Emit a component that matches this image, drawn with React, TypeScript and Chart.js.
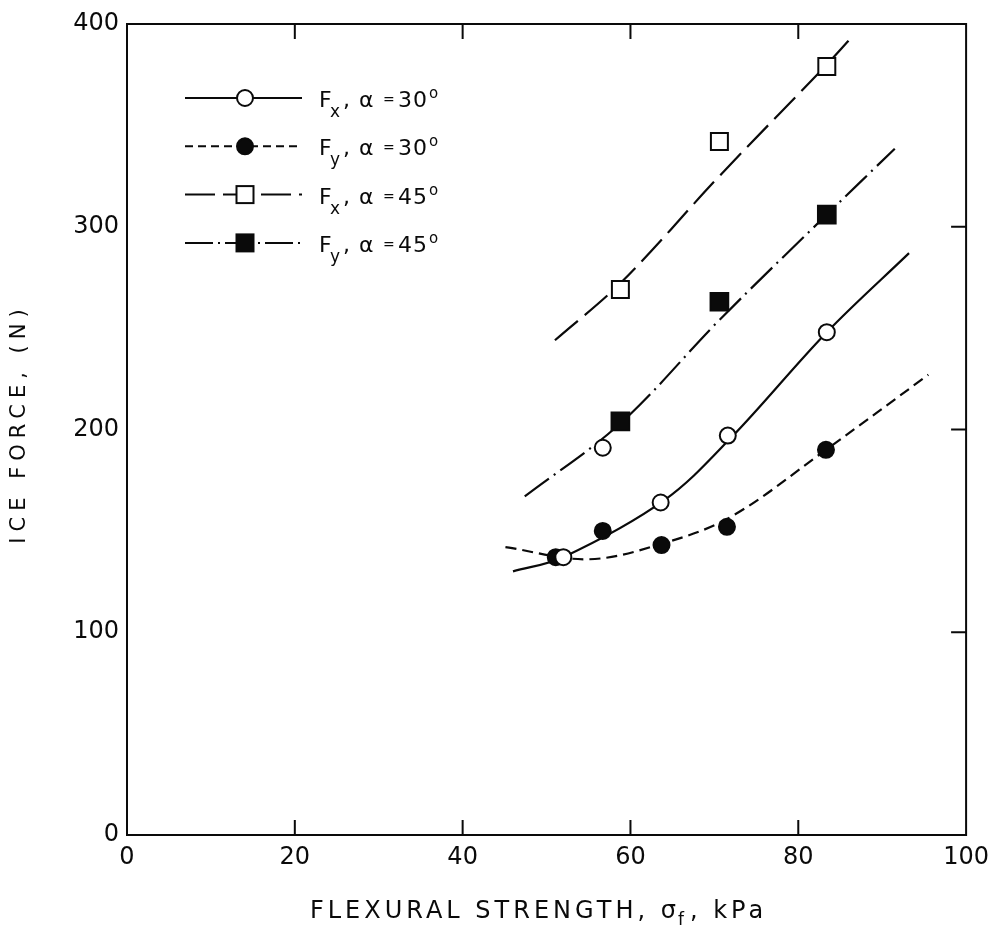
import React, { useEffect, useRef } from 'react';
import { Chart, registerables } from 'chart.js';

Chart.register(...registerables);

// ---------- data ----------
const xTickValues = [0, 20, 40, 60, 80, 100];
const yTickValues = [0, 100, 200, 300, 400];

// measured points
const fx30X = [52.0, 56.7, 63.6, 71.6, 83.4];
const fx30Y = [137, 191, 164, 197, 248];
const fy30X = [51.1, 56.7, 63.7, 71.5, 83.3];
const fy30Y = [137, 150, 143, 152, 190];
const fx45X = [58.8, 70.6, 83.4];
const fx45Y = [269, 342, 379];
const fy45X = [58.8, 70.6, 83.4];
const fy45Y = [204, 263, 306];

// fitted curves
const fx30FitX = [46, 52, 64, 72, 83.4, 93.2];
const fx30FitY = [130, 137, 165, 196, 248, 287];
const fy30FitX = [45.1, 55, 64, 72, 83.3, 95.5];
const fy30FitY = [142, 136, 144, 157, 190, 227];
const fx45FitX = [51, 59, 70.6, 83.4, 86.7];
const fx45FitY = [244, 273, 325, 380, 395];
const fy45FitX = [47.4, 58.8, 70.6, 83.4, 91.5];
const fy45FitY = [167, 203, 254, 306, 338.5];

// legend
const legendSubs = ['x', 'y', 'x', 'y'];
const legendAngles = ['30', '30', '45', '45'];
const legendMarkers = ['openCircle', 'filledCircle', 'openSquare', 'filledSquare'];

const xTitleMain = 'FLEXURAL STRENGTH, σ';
const xTitleSub = 'f';
const xTitleTail = ', kPa';
const yTitle = 'ICE FORCE, (N)';

const FONT = '"DejaVu Sans", sans-serif';
const INK = '#0a0a0a';

const dashSolid: number[] = [];
const dashShort = [11, 6];
const dashLong = [30, 9];
const dashDot = [30, 6, 2, 6];
const legendDashes = [dashSolid, [8, 5], [30, 8], [28, 5, 2, 5]];

const zip = (xs: number[], ys: number[]) => xs.map((x, i) => ({ x, y: ys[i] }));

function drawMarker(ctx: CanvasRenderingContext2D, kind: string, x: number, y: number) {
  ctx.save();
  ctx.setLineDash([]);
  ctx.lineWidth = 2;
  ctx.strokeStyle = INK;
  if (kind === 'openCircle' || kind === 'filledCircle') {
    ctx.beginPath();
    ctx.arc(x, y, 8, 0, Math.PI * 2);
    ctx.fillStyle = kind === 'openCircle' ? '#fff' : INK;
    ctx.fill();
    ctx.stroke();
  } else {
    const s = 8.5;
    ctx.fillStyle = kind === 'openSquare' ? '#fff' : INK;
    ctx.fillRect(x - s, y - s, 2 * s, 2 * s);
    ctx.strokeRect(x - s, y - s, 2 * s, 2 * s);
  }
  ctx.restore();
}

const decor = {
  id: 'decor',
  afterDraw(chart: any) {
    const { ctx, chartArea: a, scales } = chart;
    const xs = scales.x;
    const ys = scales.y;
    ctx.save();
    // frame
    ctx.strokeStyle = INK;
    ctx.lineWidth = 2;
    ctx.setLineDash([]);
    ctx.strokeRect(a.left, a.top, a.right - a.left, a.bottom - a.top);
    // inward ticks
    const TL = 15;
    ctx.beginPath();
    xTickValues.forEach((v) => {
      if (v > xs.min && v < xs.max) {
        const px = xs.getPixelForValue(v);
        ctx.moveTo(px, a.bottom);
        ctx.lineTo(px, a.bottom - TL);
        ctx.moveTo(px, a.top);
        ctx.lineTo(px, a.top + TL);
      }
    });
    yTickValues.forEach((v) => {
      if (v > ys.min && v < ys.max) {
        const py = ys.getPixelForValue(v);
        ctx.moveTo(a.right, py);
        ctx.lineTo(a.right - TL, py);
      }
    });
    ctx.stroke();

    ctx.fillStyle = INK;
    // x title
    ctx.textBaseline = 'alphabetic';
    ctx.textAlign = 'left';
    (ctx as any).letterSpacing = '4px';
    ctx.font = `24px ${FONT}`;
    const w1 = ctx.measureText(xTitleMain).width;
    const w3 = ctx.measureText(xTitleTail).width;
    ctx.font = `17px ${FONT}`;
    const w2 = ctx.measureText(xTitleSub).width;
    const total = w1 + w2 + w3;
    let xx = (a.left + a.right) / 2 - total / 2 - 8;
    const by = 918;
    ctx.font = `24px ${FONT}`;
    ctx.fillText(xTitleMain, xx, by);
    xx += w1;
    ctx.font = `17px ${FONT}`;
    ctx.fillText(xTitleSub, xx - 2, by + 7);
    xx += w2;
    ctx.font = `24px ${FONT}`;
    ctx.fillText(xTitleTail, xx, by);

    // y title
    ctx.save();
    ctx.translate(20, (a.top + a.bottom) / 2);
    ctx.rotate(-Math.PI / 2);
    (ctx as any).letterSpacing = '6px';
    ctx.font = `21px ${FONT}`;
    ctx.textAlign = 'center';
    ctx.textBaseline = 'middle';
    ctx.fillText(yTitle, 6, 0);
    ctx.restore();

    // legend
    const rowY0 = 98;
    const rowGap = 48.3;
    for (let i = 0; i < legendMarkers.length; i++) {
      const y = rowY0 + i * rowGap;
      ctx.save();
      ctx.strokeStyle = INK;
      ctx.lineWidth = 2;
      ctx.setLineDash(legendDashes[i]);
      ctx.beginPath();
      ctx.moveTo(185, y);
      ctx.lineTo(302, y);
      ctx.stroke();
      ctx.restore();
      drawMarker(ctx, legendMarkers[i], 245, y);

      ctx.save();
      (ctx as any).letterSpacing = '1px';
      ctx.textAlign = 'left';
      ctx.textBaseline = 'alphabetic';
      const base = y + 9;
      ctx.font = `22px ${FONT}`;
      ctx.fillText('F', 319, base);
      ctx.font = `17px ${FONT}`;
      ctx.fillText(legendSubs[i], 330, base + 10);
      ctx.font = `22px ${FONT}`;
      ctx.fillText(',', 343, base);
      ctx.fillText('α', 359, base);
      ctx.font = `14px ${FONT}`;
      ctx.fillText('=', 383, base - 3);
      ctx.font = `22px ${FONT}`;
      ctx.fillText(legendAngles[i], 398, base);
      ctx.font = `15px ${FONT}`;
      ctx.fillText('o', 429, base - 9);
      ctx.restore();
    }
    ctx.restore();
  },
};

export default function App() {
  const ref = useRef<HTMLCanvasElement | null>(null);

  useEffect(() => {
    if (!ref.current) return;
    const markerBase = {
      showLine: false,
      borderColor: INK,
      pointBorderColor: INK,
      pointBorderWidth: 2,
      order: 0,
    };
    const fitBase = {
      showLine: true,
      pointRadius: 0,
      borderColor: INK,
      borderWidth: 2.2,
      tension: 0.35,
      fill: false,
      order: 1,
    };
    const chart = new Chart(ref.current, {
      type: 'scatter',
      data: {
        datasets: [
          { ...markerBase, label: 'Fx 30 pts', data: zip(fx30X, fx30Y), pointStyle: 'circle', pointRadius: 8, pointBackgroundColor: '#fff' },
          { ...markerBase, label: 'Fy 30 pts', data: zip(fy30X, fy30Y), pointStyle: 'circle', pointRadius: 8, pointBackgroundColor: INK },
          { ...markerBase, label: 'Fx 45 pts', data: zip(fx45X, fx45Y), pointStyle: 'rect', pointRadius: 12, pointBackgroundColor: '#fff' },
          { ...markerBase, label: 'Fy 45 pts', data: zip(fy45X, fy45Y), pointStyle: 'rect', pointRadius: 12.5, pointBackgroundColor: INK },
          { ...fitBase, label: 'Fx 30 fit', data: zip(fx30FitX, fx30FitY), borderDash: dashSolid },
          { ...fitBase, label: 'Fy 30 fit', data: zip(fy30FitX, fy30FitY), borderDash: dashShort },
          { ...fitBase, label: 'Fx 45 fit', data: zip(fx45FitX, fx45FitY), borderDash: dashLong },
          { ...fitBase, label: 'Fy 45 fit', data: zip(fy45FitX, fy45FitY), borderDash: dashDot },
        ],
      },
      options: {
        responsive: false,
        animation: false,
        devicePixelRatio: 1,
        layout: { padding: { top: 24, right: 28, left: 0, bottom: 0 } },
        plugins: { legend: { display: false }, tooltip: { enabled: false } },
        scales: {
          x: {
            type: 'linear',
            min: 0,
            max: 100,
            grid: { display: false, drawTicks: false },
            border: { display: false },
            ticks: { stepSize: 20, color: INK, padding: 8, maxRotation: 0, font: { family: FONT, size: 24 } },
            afterFit: (s: any) => { s.height = 105; },
          },
          y: {
            type: 'linear',
            min: 0,
            max: 400,
            grid: { display: false, drawTicks: false },
            border: { display: false },
            ticks: { stepSize: 100, color: INK, padding: 8, font: { family: FONT, size: 24 } },
            afterFit: (s: any) => { s.width = 127; },
          },
        },
      },
      plugins: [decor],
    });
    return () => chart.destroy();
  }, []);

  return (
    <div style={{ position: 'absolute', left: 0, top: 0, width: 997, height: 940, background: '#fff' }}>
      <canvas ref={ref} width={997} height={940} style={{ width: 997, height: 940, display: 'block' }} />
    </div>
  );
}
